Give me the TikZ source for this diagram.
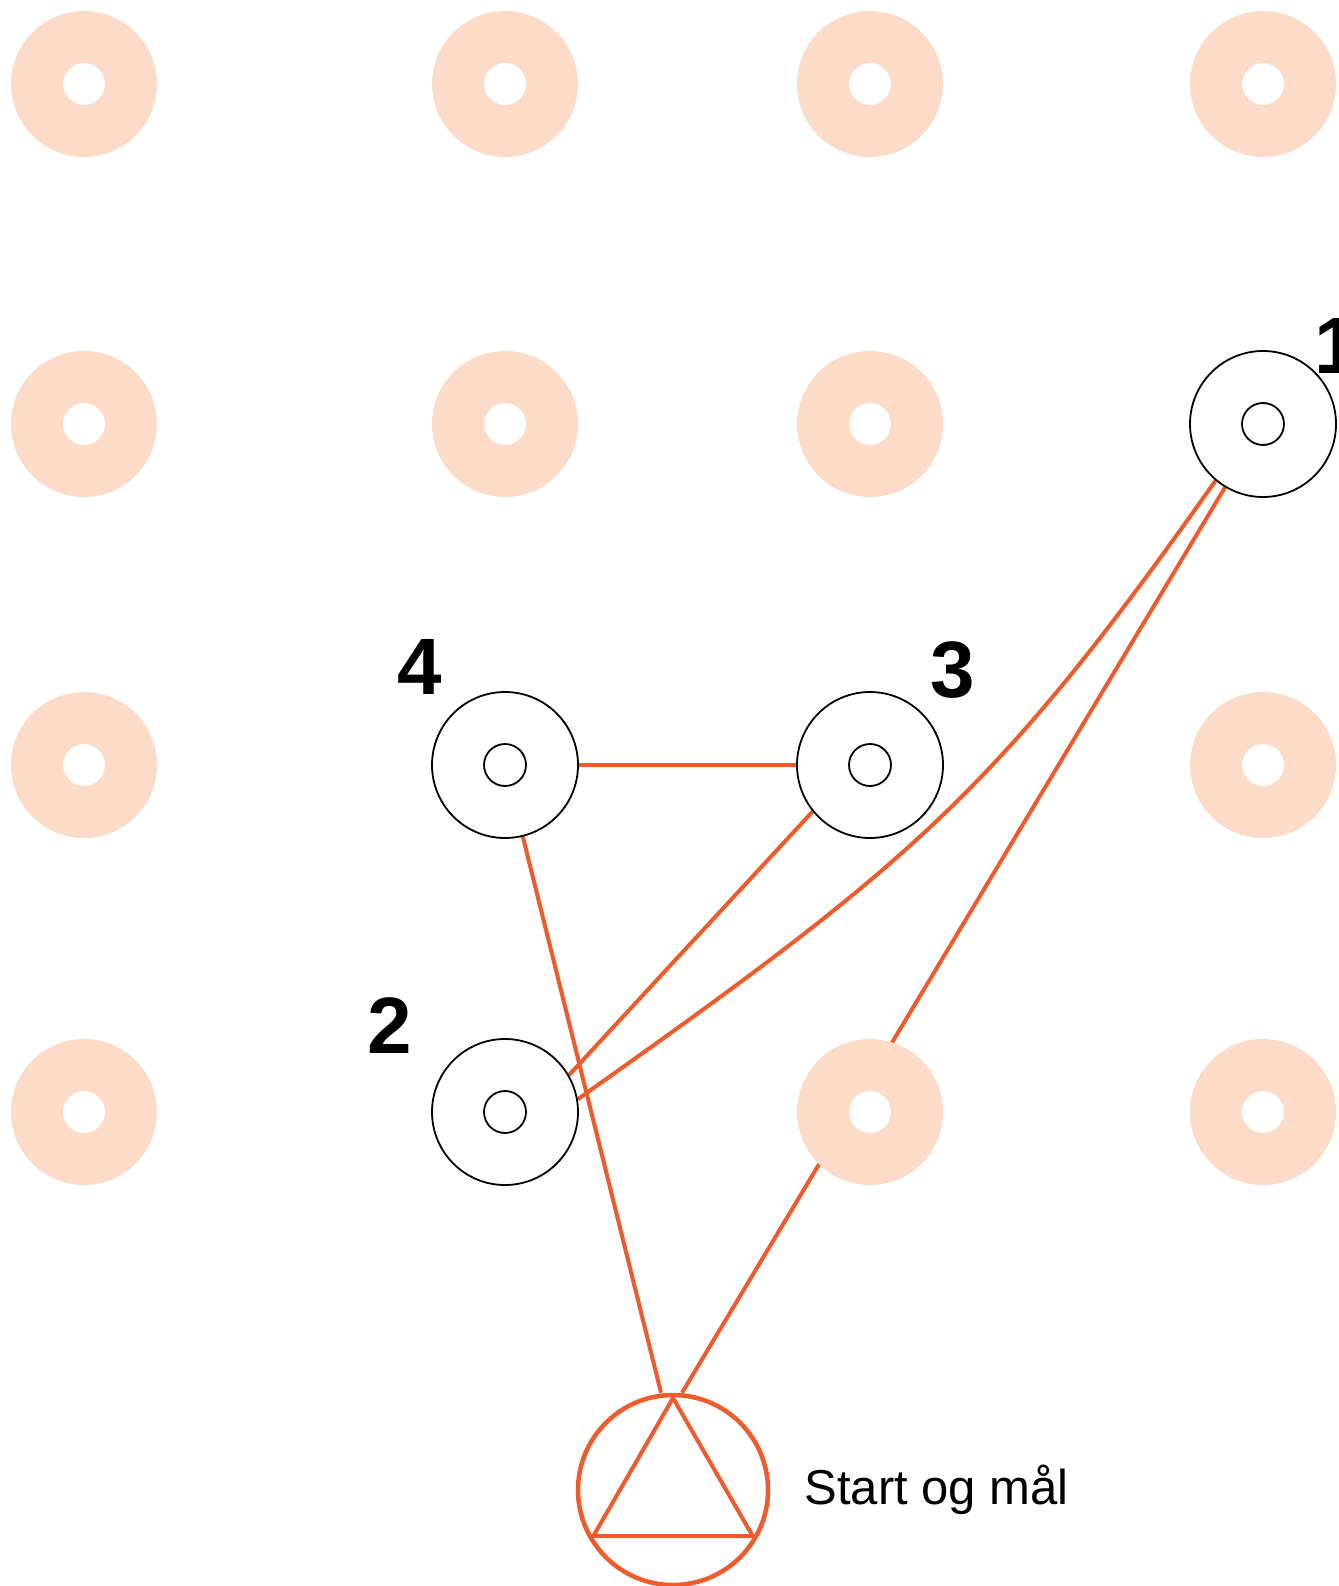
\documentclass[tikz,border=0pt]{standalone}
\usepackage{fontspec}
\setmainfont{Liberation Sans}
\usepackage{xcolor}
\definecolor{routeorange}{HTML}{F15A2B}
\definecolor{pegpale}{HTML}{FCDBC9}
\usetikzlibrary{positioning,calc,backgrounds}

\begin{document}
\begin{tikzpicture}[
  x=1pt,y=1pt,
  peg/.style={circle,draw=pegpale,line width=52pt,fill=white,minimum size=94pt,inner sep=0pt},
  post/.style={circle,draw=black,line width=1.8pt,fill=white,minimum size=146pt,inner sep=0pt,
    path picture={\draw[line width=1.8pt] (path picture bounding box.center) circle (21pt);}},
  goal/.style={circle,draw=routeorange,line width=4.5pt,fill=white,minimum size=190pt,inner sep=0pt},
  num/.style={font=\fontsize{80}{80}\selectfont\bfseries,inner sep=0pt},
  route/.style={draw=routeorange,line width=4pt}
]
\useasboundingbox (0,0) rectangle (1338,-1586);
% pale pegs of the grid
\foreach \x/\y/\n in {84/84/a1,505/84/a2,870/84/a3,1263/84/a4,
  84/424/b1,505/424/b2,870/424/b3,
  84/765/c1,1263/765/c4,
  84/1112/d1,870/1112/d3,1263/1112/d4}
  \node[peg] (p\n) at (\x,-\y) {};
% control posts
\node[post] (n1) at (1263,-424) {};
\node[post] (n2) at (505,-1112) {};
\node[post] (n3) at (870,-765) {};
\node[post] (n4) at (505,-765) {};
\node[num] (l1) at ($(n1)+(74,78)$) {1};
\node[num] (l2) at ($(n2)+(-115,86)$) {2};
\node[num] (l3) at ($(n3)+(83,95)$) {3};
\node[num] (l4) at ($(n4)+(-85,98)$) {4};
% start and finish
\node[goal] (start) at (673,-1490) {};
\draw[route] ($(start)+(90:92)$) -- ($(start)+(210:92)$) -- ($(start)+(330:92)$) -- cycle;
\node[right=34pt of start,font=\fontsize{49}{49}\selectfont,inner sep=0pt] (startlbl) {Start og mål};
% route legs
\begin{scope}[on background layer]
\draw[route] (n4) -- (n3);
\draw[route] (n4) -- ($(start.north)+(-12,0)$);
\draw[route] (n3.219) -- (n2.30);
\draw[route] (n1.230) .. controls (996,-792) and (913,-862) .. (n2.10);
\draw[route] (n1) -- ($(start.north)+(9,0)$);
\end{scope}
\end{tikzpicture}
\end{document}
